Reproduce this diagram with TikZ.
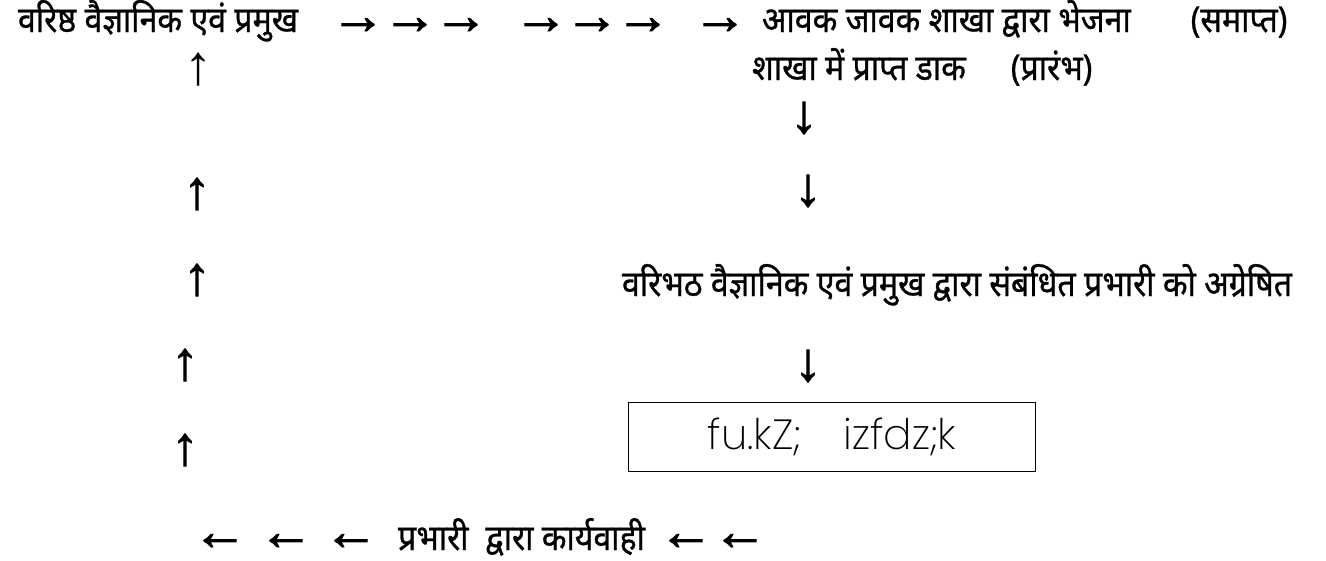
\documentclass[tikz,border=0pt]{standalone}
\usepackage{fontspec}
\newfontfamily\hindi[Script=Devanagari,FakeStretch=0.9,FakeBold=0.8]{Noto Sans}
\newfontfamily\arrowfont[FakeBold=1.6]{Liberation Sans}
\newfontfamily\thinarrow{Liberation Serif}
\IfFontExistsTF{Poppins ExtraLight}{\newfontfamily\boxfont{Poppins ExtraLight}}{%
  \IfFontExistsTF{Poppins Light}{\newfontfamily\boxfont{Poppins Light}}{\newfontfamily\boxfont{Poppins}}}
\usetikzlibrary{positioning}

\begin{document}
\begin{tikzpicture}[x=0.02cm, y=-0.02cm,
    every node/.style = {inner sep=0pt, outer sep=0pt},
    txt/.style = {font=\hindi\fontsize{20.3}{24}\selectfont, anchor=base west},
    arw/.style = {font=\arrowfont\fontsize{31}{34}\selectfont},
    thinarw/.style = {font=\thinarrow\fontsize{32}{34}\selectfont},
    decision/.style = {draw, line width=0.8pt, minimum width=8.14cm, minimum height=1.38cm,
                       font=\boxfont\fontsize{24}{28}\selectfont}]
    \useasboundingbox (0,0) rectangle (1326,561);

    % top row
    \node[txt] (senior) at (18,32) {वरिष्ठ वैज्ञानिक एवं प्रमुख};
    \node[arw] (r1) at (358,26) {→};
    \node[arw] (r2) at (410,26) {→};
    \node[arw] (r3) at (461,26) {→};
    \node[arw] (r4) at (541,26) {→};
    \node[arw] (r5) at (592,26) {→};
    \node[arw] (r6) at (643,26) {→};
    \node[arw] (r7) at (720,26) {→};
    \node[txt] (dispatch) at (762,32) {आवक जावक शाखा द्वारा भेजना};
    \node[txt, right=1.2cm of dispatch.base east, anchor=base west] (finish) {(समाप्त)};

    % received mail
    \node[txt] (mail) at (752,80) {शाखा में प्राप्त डाक};
    \node[txt, right=0.9cm of mail.base east, anchor=base west] (begin) {(प्रारंभ)};

    % right column
    \node[arw] (d1) at (804,118) {↓};
    \node[arw] (d2) at (808,191) {↓};
    \node[txt] (forward) at (622,296) {वरिभठ वैज्ञानिक एवं प्रमुख द्वारा संबंधित प्रभारी को अग्रेषित};
    \node[arw] (d3) at (808,366) {↓};
    \node[decision] (decide) at (832,437) {fu.kZ;\quad izfdz;k};

    % bottom row
    \node[arw] (l1) at (220,542) {←};
    \node[arw] (l2) at (286,542) {←};
    \node[arw] (l3) at (351,542) {←};
    \node[txt] (action) at (398,550) {प्रभारी~~द्वारा कार्यवाही};
    \node[arw] (l4) at (686,542) {←};
    \node[arw] (l5) at (740,542) {←};

    % left column
    \node[arw] (u4) at (185,450) {↑};
    \node[arw] (u3) at (185,365) {↑};
    \node[arw] (u2) at (197,280) {↑};
    \node[arw] (u1) at (197,194) {↑};
    \node[thinarw] (u0) at (199,70) {↑};
\end{tikzpicture}
\end{document}
